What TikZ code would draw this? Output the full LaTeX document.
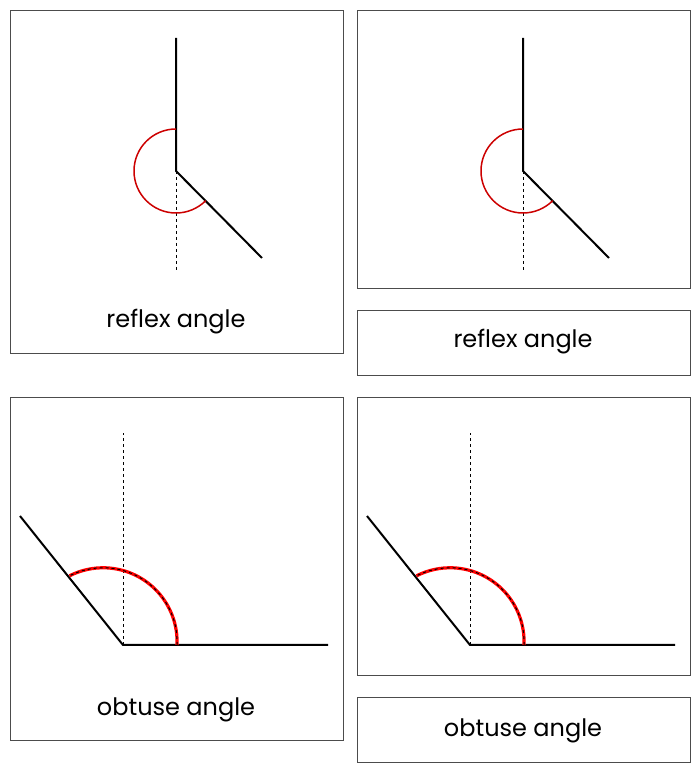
\documentclass[tikz,border=0pt]{standalone}
\usepackage{fontspec}
\setmainfont{Poppins}
\tikzset{
  card/.style={draw=black!70, line width=0.8pt},
  ray/.style={line width=2pt},
  guide/.style={dashed, line width=1pt},
  anglearc/.style={red!80!black, line width=1.5pt},
  caption/.style={font=\fontsize{24}{26}\selectfont}
}
\begin{document}
\begin{tikzpicture}[x=1pt, y=1pt]
    \useasboundingbox (0,0) rectangle (700,774);

    % cards
    \draw[card] (10,421) rectangle (343,764);
    \draw[card] (357,486) rectangle (690,764);
    \draw[card] (357,399) rectangle (690,464);
    \draw[card] (10,34) rectangle (343,377);
    \draw[card] (357,99) rectangle (690,377);
    \draw[card] (357,12) rectangle (690,77);

    % reflex angles
    \foreach \dx/\n in {0/a, 347/b} {
        \coordinate (v\n) at (176+\dx,603);
        \coordinate (t\n) at (176+\dx,736);
        \coordinate (d\n) at (262+\dx,516);
        \coordinate (g\n) at (176+\dx,504);
        \draw[guide] (v\n) -- (g\n);
        \draw[ray] (t\n) -- (v\n) -- (d\n);
        \draw[anglearc] (v\n) ++(0,42) arc[start angle=90, end angle=315, radius=42];
    }

    % obtuse angles
    \foreach \dx/\n in {0/c, 347/d} {
        \coordinate (v\n) at (123+\dx,129);
        \coordinate (h\n) at (328+\dx,129);
        \coordinate (u\n) at (20+\dx,258);
        \coordinate (g\n) at (123+\dx,341);
        \coordinate (s\n) at (177+\dx,129);
        \draw[guide] (v\n) -- (g\n);
        \draw[ray] (u\n) -- (v\n) -- (h\n);
        \draw[red, line width=3.2pt] (s\n) arc[start angle=-2.5, end angle=117, radius=74];
        \draw[dashed, line width=1pt] (s\n) arc[start angle=-2.5, end angle=117, radius=74];
    }

    \node[caption] (ra) at (176,452) {reflex angle};
    \node[caption] (rb) at (523,432) {reflex angle};
    \node[caption] (oa) at (176,64) {obtuse angle};
    \node[caption] (ob) at (523,43) {obtuse angle};
\end{tikzpicture}
\end{document}
